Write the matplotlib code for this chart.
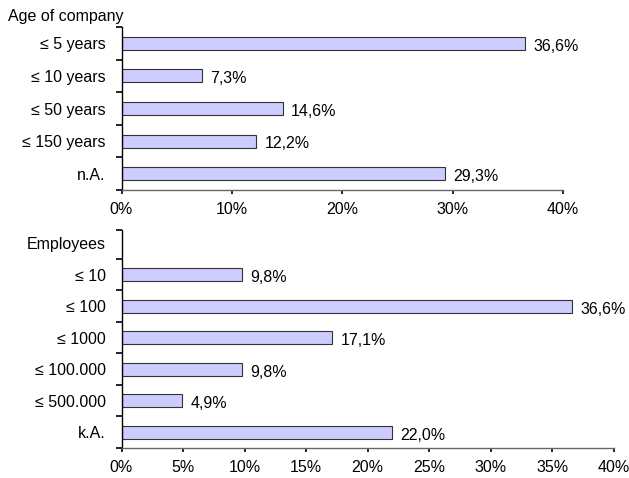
import matplotlib
matplotlib.use("Agg")
import matplotlib.pyplot as plt
import numpy as np

plt.rcParams["font.family"] = ["Liberation Sans", "DejaVu Sans"]
plt.rcParams["font.size"] = 11.5

# ---------------------------------------------------------------------------
# Data (percent)
# ---------------------------------------------------------------------------
age_labels = ["\u2264 5 years", "\u2264 10 years", "\u2264 50 years", "\u2264 150 years", "n.A."]
age_values = [36.6, 7.3, 14.6, 12.2, 29.3]
age_ticks = [0, 10, 20, 30, 40]

emp_labels = ["Employees", "\u2264 10", "\u2264 100", "\u2264 1000", "\u2264 100.000", "\u2264 500.000", "k.A."]
emp_values = [np.nan, 9.8, 36.6, 17.1, 9.8, 4.9, 22.0]
emp_ticks = [0, 5, 10, 15, 20, 25, 30, 35, 40]

BAR_FACE = "#CCCCFF"
BAR_EDGE = "#333333"

W, H = 629, 478
fig = plt.figure(figsize=(W / 100, H / 100), dpi=100)


def fmt(v):
    return f"{v:.1f}".replace(".", ",") + "%"


def draw(ax, labels, values, xticks, ytop):
    n = len(labels)
    pos = np.arange(n)
    ax.barh(pos, values, height=0.4, color=BAR_FACE, edgecolor=BAR_EDGE, linewidth=0.8)
    for p, v in zip(pos, values):
        if np.isnan(v):
            continue
        ax.annotate(fmt(v), (v, p), xytext=(6, -2), textcoords="offset points",
                    va="center", ha="left")
    ax.set_xlim(0, xticks[-1])
    ax.set_ylim(n - 0.5, ytop)
    ax.set_xticks(xticks)
    ax.set_xticklabels([f"{t}%" for t in xticks])
    ax.set_yticks(pos)
    ax.set_yticklabels(labels)
    ax.set_yticks(list(np.arange(n) + 0.5) + [ytop], minor=True)
    ax.tick_params(axis="y", which="major", length=0, pad=11.5)
    ax.tick_params(axis="y", which="minor", length=4, width=1.2, direction="out", color="black")
    ax.tick_params(axis="x", length=3, width=1.2, direction="out", pad=6, color="black")
    for s in ("top", "right"):
        ax.spines[s].set_visible(False)
    ax.spines["left"].set_color("black")
    ax.spines["bottom"].set_color("#666666")
    ax.spines["left"].set_linewidth(1.0)
    ax.spines["bottom"].set_linewidth(1.0)


ax1 = fig.add_axes([121.5 / W, 1 - 190 / H, (563 - 121.5) / W, (190 - 27) / H])
draw(ax1, age_labels, age_values, age_ticks, -0.5)
fig.text(8 / W, 1 - 16 / H, "Age of company", ha="left", va="center")

ax2 = fig.add_axes([121.5 / W, 1 - 448 / H, (614 - 121.5) / W, (448 - 230) / H])
draw(ax2, emp_labels, emp_values, emp_ticks, -0.42)

fig.savefig("out.png", dpi=100)
